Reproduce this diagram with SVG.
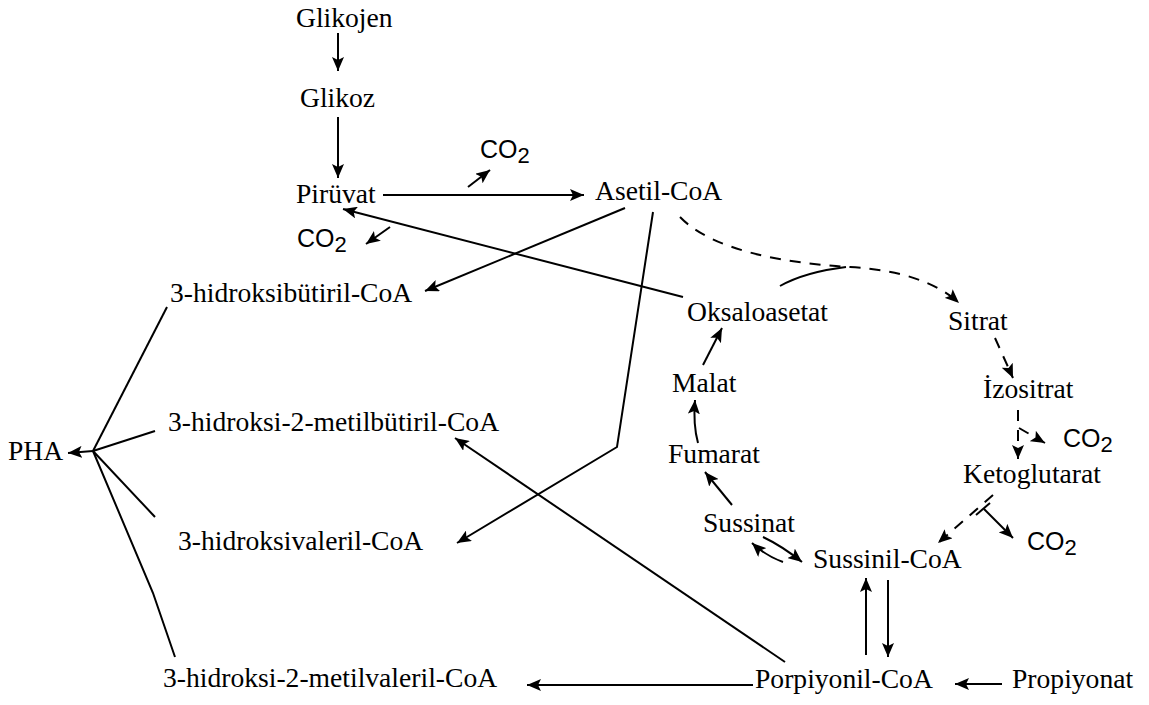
<svg xmlns="http://www.w3.org/2000/svg" width="1149" height="705" viewBox="0 0 1149 705">
  <style>
    .lbl { font-family: "Liberation Serif", "Times New Roman", serif; font-size: 27.6px; fill: #000; }
    .co2 { font-family: "Liberation Sans", Arial, sans-serif; font-size: 25px; fill: #000; }
    .sub { font-size: 22px; }
    .ln { fill: none; stroke: #000; stroke-width: 2; }
    .arr { marker-end: url(#ah); }
    .dash { stroke-dasharray: 11 9; }
  </style>
  <defs>
    <marker id="ah" markerUnits="userSpaceOnUse" markerWidth="16" markerHeight="12" refX="14" refY="6" orient="auto">
      <path d="M0,0 L14,6 L0,12 L3,6 z" fill="#000"/>
    </marker>
  </defs>
  <rect width="1149" height="705" fill="#fff"/>

  <!-- connectors -->
  <g id="connectors">
    <!-- glycolysis -->
    <line class="ln arr" x1="338" y1="33" x2="338" y2="71"/>
    <line class="ln arr" x1="338" y1="117" x2="338" y2="178"/>
    <line class="ln arr" x1="383" y1="195" x2="584" y2="195"/>
    <line class="ln arr" x1="468" y1="187" x2="490" y2="170"/>
    <!-- oxaloacetate back to pyruvate with CO2 release -->
    <line class="ln arr" x1="683" y1="297" x2="343" y2="209"/>
    <line class="ln arr" x1="390" y1="227" x2="366" y2="244"/>
    <!-- acetyl-CoA branches -->
    <line class="ln arr" x1="625" y1="208" x2="425" y2="291"/>
    <polyline class="ln arr" points="653,212 617,447 457,543"/>
    <path class="ln dash arr" d="M680,217 C712,250 782,263 850,267 C900,270 936,282 959,303"/>
    <path class="ln" d="M780,286 Q805,272 846,267"/>
    <!-- TCA cycle -->
    <line class="ln dash arr" x1="995" y1="338" x2="1013" y2="378"/>
    <line class="ln dash arr" x1="1018" y1="410" x2="1018" y2="459"/>
    <line class="ln dash arr" x1="1019" y1="428" x2="1045" y2="443"/>
    <line class="ln dash arr" x1="993" y1="495" x2="938" y2="543"/>
    <line class="ln arr" x1="984" y1="509" x2="1013" y2="538"/>
    <line class="ln" x1="976" y1="515" x2="990" y2="503"/>
    <path class="ln arr" d="M763,537 Q782,546 802,562"/>
    <path class="ln arr" d="M783,562 Q766,556 752,543"/>
    <line class="ln arr" x1="732" y1="505" x2="705" y2="472"/>
    <path class="ln arr" d="M698,443 Q693,425 695,400"/>
    <line class="ln arr" x1="703" y1="365" x2="722" y2="328"/>
    <!-- propionyl-CoA links -->
    <line class="ln arr" x1="866" y1="655" x2="866" y2="578"/>
    <line class="ln arr" x1="888" y1="580" x2="888" y2="657"/>
    <line class="ln arr" x1="1002" y1="684" x2="955" y2="684"/>
    <line class="ln arr" x1="753" y1="685" x2="527" y2="685"/>
    <line class="ln arr" x1="785" y1="662" x2="455" y2="438"/>
    <!-- monomers to PHA -->
    <line class="ln" x1="93" y1="451" x2="167" y2="307"/>
    <line class="ln" x1="93" y1="451" x2="155" y2="431"/>
    <line class="ln" x1="93" y1="451" x2="155" y2="517"/>
    <polyline class="ln" points="93,451 153,593 175,657"/>
    <line class="ln arr" x1="93" y1="451" x2="68" y2="453"/>
  </g>

  <!-- nodes -->
  <g id="glikojen"><text class="lbl" x="296" y="27">Glikojen</text></g>
  <g id="glikoz"><text class="lbl" x="300" y="107">Glikoz</text></g>
  <g id="piruvat"><text class="lbl" x="296" y="203">Pirüvat</text></g>
  <g id="co2-a"><text class="co2" x="480" y="158">CO<tspan class="sub" dy="5">2</tspan></text></g>
  <g id="co2-b"><text class="co2" x="297" y="247">CO<tspan class="sub" dy="5">2</tspan></text></g>
  <g id="asetil-coa"><text class="lbl" x="595" y="200">Asetil-CoA</text></g>
  <g id="oksaloasetat"><text class="lbl" x="687" y="321">Oksaloasetat</text></g>
  <g id="sitrat"><text class="lbl" x="948" y="330">Sitrat</text></g>
  <g id="izositrat"><text class="lbl" x="983" y="398">İzositrat</text></g>
  <g id="co2-c"><text class="co2" x="1063" y="447">CO<tspan class="sub" dy="5">2</tspan></text></g>
  <g id="ketoglutarat"><text class="lbl" x="963" y="483">Ketoglutarat</text></g>
  <g id="co2-d"><text class="co2" x="1027" y="550">CO<tspan class="sub" dy="5">2</tspan></text></g>
  <g id="sussinil-coa"><text class="lbl" x="813" y="568">Sussinil-CoA</text></g>
  <g id="sussinat"><text class="lbl" x="703" y="532">Sussinat</text></g>
  <g id="fumarat"><text class="lbl" x="668" y="463">Fumarat</text></g>
  <g id="malat"><text class="lbl" x="672" y="392">Malat</text></g>
  <g id="porpiyonil-coa"><text class="lbl" x="755" y="688">Porpiyonil-CoA</text></g>
  <g id="propiyonat"><text class="lbl" x="1012" y="688">Propiyonat</text></g>
  <g id="hb-coa"><text class="lbl" x="170" y="302">3-hidroksibütiril-CoA</text></g>
  <g id="h2mb-coa"><text class="lbl" x="168" y="431">3-hidroksi-2-metilbütiril-CoA</text></g>
  <g id="hv-coa"><text class="lbl" x="178" y="550">3-hidroksivaleril-CoA</text></g>
  <g id="h2mv-coa"><text class="lbl" x="163" y="687">3-hidroksi-2-metilvaleril-CoA</text></g>
  <g id="pha"><text class="lbl" x="8" y="460">PHA</text></g>
</svg>
